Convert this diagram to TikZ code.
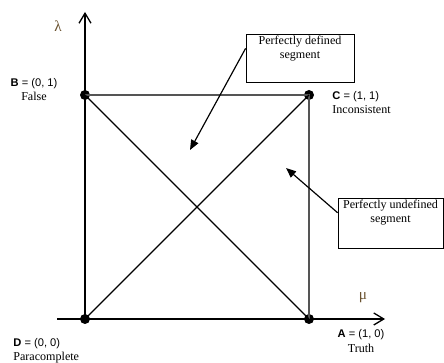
\documentclass[tikz,border=0pt]{standalone}
\usepackage{fontspec}
\setmainfont{Liberation Serif}
\setsansfont{Liberation Sans}
\usepackage{tikz}
\usetikzlibrary{positioning,arrows.meta}
\definecolor{axisInk}{HTML}{000000}
\definecolor{edgeGray}{HTML}{555555}
\definecolor{greekBrown}{HTML}{6b5330}

\newcommand{\vtx}[1]{{\sffamily\fontsize{9.5pt}{12pt}\selectfont\bfseries #1\mdseries\ = }}
\newcommand{\pair}[1]{{\sffamily\fontsize{9.5pt}{12pt}\selectfont #1}}

\begin{document}
\begin{tikzpicture}[x=0.03cm,y=0.03cm,
  every node/.style={font=\fontsize{10.3pt}{12pt}\selectfont,inner sep=1pt},
  axis/.style={line width=1.4pt,color=axisInk,-{Straight Barb[length=3mm,width=3.6mm,line width=1.1pt]}},
  edge/.style={line width=1.1pt,color=edgeGray},
  diag/.style={line width=1.1pt,color=black},
  dot/.style={circle,fill=black,inner sep=0pt,minimum size=0.3cm},
  segbox/.style={draw=black,line width=0.7pt,fill=white},
  pointer/.style={line width=1pt,-{Triangle[length=3mm,width=2.4mm]}},
  greek/.style={text=greekBrown,font=\fontsize{13pt}{14pt}\selectfont},
]
\useasboundingbox (0,0) rectangle (444,363);

% corners of the unit square
\node[dot] (D) at (85,44)  {};
\node[dot] (A) at (309,44) {};
\node[dot] (B) at (85,268) {};
\node[dot] (C) at (309,268) {};

% axes
\coordinate (muEnd)  at (385,44);
\coordinate (muBeg)  at (57,44);
\coordinate (lamEnd) at (85,351);
\draw[axis] (muBeg) -- (muEnd);
\draw[axis] (D.center) -- (lamEnd);
\node[greek] (lam) at (58,337) {λ};
\node[greek] (mu)  at (363,65) {μ};

% square and diagonals
\draw[edge] (B.center) -- (C.center) -- (A.center);
\draw[diag] (B.center) -- (A.center);
\draw[diag] (D.center) -- (C.center);

% vertex labels
\node[align=center] (Blab) at (34,273) {\vtx{B}\pair{(0, 1)}\\False};
\node[align=left,anchor=west] (Clab) at (331,260) {\vtx{C}\pair{(1, 1)}\\Inconsistent};
\node[align=left,anchor=west] (Dlab) at (12,12) {\vtx{D}\pair{(0, 0)}\\Paracomplete};
\node[align=center] (Alab) at (361,22) {\vtx{A}\pair{(1, 0)}\\Truth};

% segment boxes
\node[segbox,minimum width=3.24cm,minimum height=1.44cm] (defbox) at (300,305) {};
\node[align=center,below=1pt of defbox.north] (deftext) {Perfectly defined\\segment};
\node[segbox,minimum width=3.15cm,minimum height=1.5cm] (undefbox) at (390.5,140) {};
\node[align=center,below=1pt of undefbox.north] (undeftext) {Perfectly undefined\\segment};

\coordinate (deftip)   at (190,213);
\coordinate (undeftip) at (286,195);
\draw[pointer] (defbox.170) -- (deftip);
\draw[pointer] (undefbox.169) -- (undeftip);
\end{tikzpicture}
\end{document}
